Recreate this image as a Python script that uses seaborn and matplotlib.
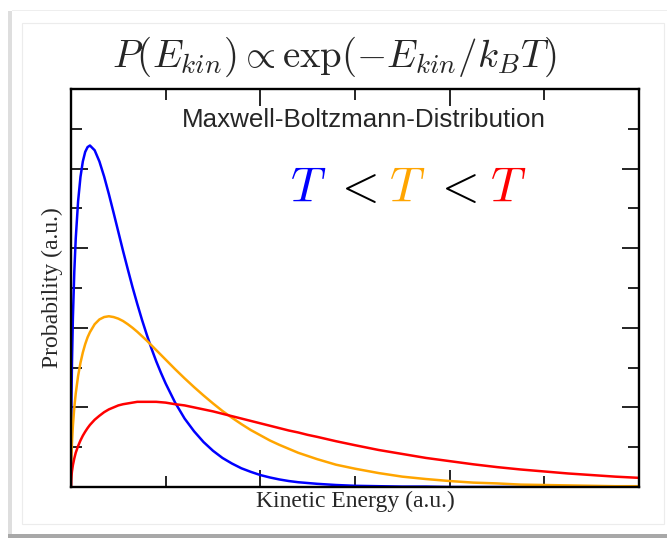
import matplotlib
matplotlib.use("Agg")
import pandas as pd
import seaborn as sns
import matplotlib.pyplot as plt
from matplotlib.patches import Rectangle
from matplotlib.ticker import MultipleLocator

# Kinetic energy (a.u.) and probability for three temperatures
energy = [0, 0.002, 0.005, 0.01, 0.02, 0.035, 0.05, 0.075, 0.1, 0.125, 0.15, 0.175,
          0.2, 0.25, 0.3, 0.35, 0.4, 0.45, 0.5, 0.55, 0.6, 0.65, 0.7, 0.75, 0.8,
          0.85, 0.9, 0.95, 1.0, 1.1, 1.2, 1.3, 1.4, 1.5, 1.6, 1.7, 1.8, 1.9, 2.0,
          2.1, 2.2, 2.3, 2.4, 2.5, 2.6, 2.8, 3.0, 3.25, 3.5, 3.75, 4.0, 4.25, 4.5,
          4.75, 5.0, 5.25, 5.5, 5.75, 6.0]
p_low = [0, 1.41, 2.21, 3.08, 4.25, 5.42, 6.24, 7.18, 7.79, 8.18, 8.42, 8.54,
         8.58, 8.46, 8.18, 7.80, 7.36, 6.89, 6.41, 5.93, 5.47, 5.02, 4.60, 4.20, 3.83,
         3.48, 3.16, 2.87, 2.60, 2.12, 1.72, 1.40, 1.13, 0.91, 0.73, 0.59, 0.47, 0.38, 0.30,
         0.24, 0.19, 0.15, 0.12, 0.10, 0.08, 0.05, 0.03, 0.02, 0.01, 0.01, 0, 0, 0,
         0, 0, 0, 0, 0, 0]
p_mid = [0, 0.50, 0.79, 1.10, 1.54, 2.00, 2.35, 2.79, 3.12, 3.38, 3.59, 3.76,
         3.89, 4.09, 4.21, 4.27, 4.29, 4.27, 4.23, 4.17, 4.09, 4.00, 3.90, 3.79, 3.68,
         3.56, 3.44, 3.32, 3.20, 2.96, 2.73, 2.51, 2.30, 2.10, 1.91, 1.74, 1.58, 1.43, 1.30,
         1.17, 1.06, 0.96, 0.86, 0.78, 0.70, 0.56, 0.46, 0.35, 0.26, 0.20, 0.15, 0.11, 0.09,
         0.06, 0.05, 0.04, 0.03, 0.02, 0.02]
p_high = [0, 0.18, 0.28, 0.39, 0.55, 0.72, 0.86, 1.03, 1.17, 1.29, 1.39, 1.48,
          1.56, 1.69, 1.79, 1.88, 1.95, 2.00, 2.05, 2.08, 2.10, 2.12, 2.14, 2.14, 2.14,
          2.14, 2.14, 2.13, 2.12, 2.08, 2.05, 2.00, 1.95, 1.90, 1.84, 1.78, 1.72, 1.66, 1.60,
          1.54, 1.48, 1.42, 1.37, 1.31, 1.26, 1.15, 1.05, 0.93, 0.83, 0.73, 0.65, 0.57, 0.50,
          0.44, 0.39, 0.34, 0.30, 0.26, 0.23]
temps = ["low", "mid", "high"]
colors = ["blue", "orange", "red"]

df = pd.concat([
    pd.DataFrame({"E": energy, "P": p, "T": t})
    for p, t in zip([p_low, p_mid, p_high], temps)
], ignore_index=True)

sns.set_style("white")
plt.rcParams["mathtext.fontset"] = "cm"

W, H = 667, 538
fig = plt.figure(figsize=(W / 100, H / 100), dpi=100)
fig.patch.set_facecolor("white")

# framed card look
fig.add_artist(Rectangle((8 / W, 0), 659 / W, 4 / H, transform=fig.transFigure,
                         color="#a8a8a8", lw=0))
fig.add_artist(Rectangle((8 / W, 4 / H), 4 / W, 523 / H, transform=fig.transFigure,
                         color="#dedede", lw=0))
fig.add_artist(Rectangle((12 / W, 527 / H), 655 / W, 1 / H, transform=fig.transFigure,
                         color="#eeeeee", lw=0))
fig.add_artist(Rectangle((22 / W, 14 / H), 642 / W, 501 / H, transform=fig.transFigure,
                         fill=False, edgecolor="#ececec", lw=0.8))

ax = fig.add_axes([71 / W, 51 / H, 568 / W, 398 / H])
sns.lineplot(data=df, x="E", y="P", hue="T", palette=colors, linewidth=1.8,
             legend=False, errorbar=None, sort=False, ax=ax)

ax.set_xlim(0, 6)
ax.set_ylim(0, 10)
ax.xaxis.set_major_locator(MultipleLocator(2))
ax.xaxis.set_minor_locator(MultipleLocator(1))
ax.yaxis.set_major_locator(MultipleLocator(2))
ax.yaxis.set_minor_locator(MultipleLocator(1))
ax.tick_params(which="both", direction="in", top=True, right=True, bottom=True,
               left=True, labelbottom=False, labelleft=False, color="black")
ax.tick_params(which="major", length=12, width=1.2)
ax.tick_params(which="minor", length=8, width=1.2)
for s in ax.spines.values():
    s.set_color("black")
    s.set_linewidth(1.7)

ax.set_xlabel("Kinetic Energy (a.u.)", family="Liberation Serif", fontsize=17,
              labelpad=3)
ax.set_ylabel("Probability (a.u.)", family="Liberation Serif", fontsize=17,
              labelpad=6)

ax.text(0.516, 0.905, "Maxwell-Boltzmann-Distribution", transform=ax.transAxes,
        ha="center", va="baseline", family="Liberation Sans", fontsize=18.7)

parts = ["$T$", "$<$", "$T$", "$<$", "$T$"]
part_colors = ["blue", "black", "orange", "black", "red"]
part_x = [0.417, 0.501, 0.592, 0.676, 0.769]
for txt, c, x in zip(parts, part_colors, part_x):
    ax.text(x, 0.719, txt, transform=ax.transAxes, ha="center", va="baseline",
            color=c, fontsize=35)

fig.text(334 / W, (H - 67) / H, r"$P(E_{kin}) \propto \exp(-E_{kin}/k_BT)$",
         ha="center", va="baseline", fontsize=28)

fig.savefig("out.png", dpi=100)
